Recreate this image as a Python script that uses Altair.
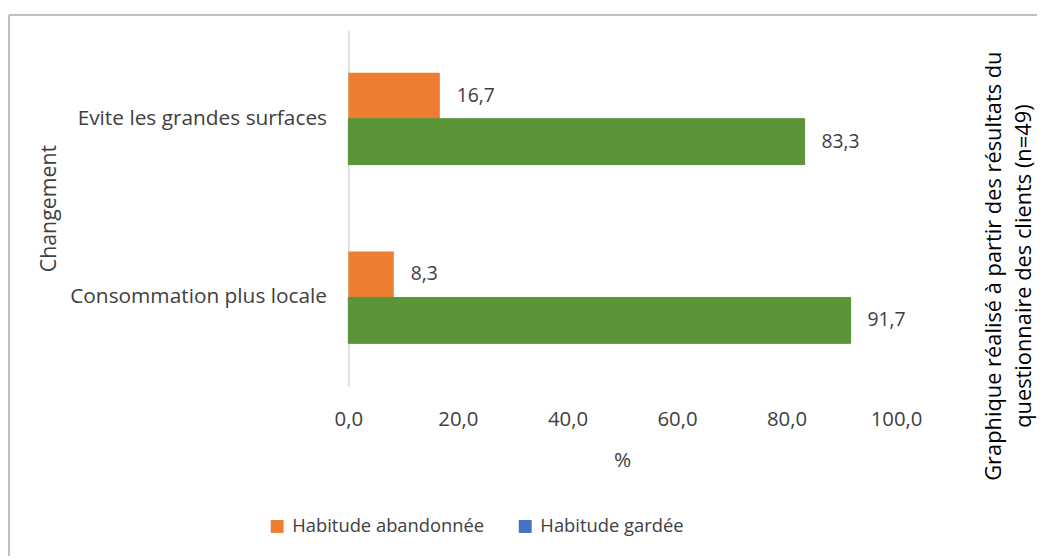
import altair as alt
import pandas as pd

categories = ["Evite les grandes surfaces", "Consommation plus locale"]
series = ["Habitude abandonnée", "Habitude gardée"]
abandonnee = [16.7, 8.3]
gardee = [83.3, 91.7]
x_ticks = [0, 20, 40, 60, 80, 100]
note_lines = ["Graphique réalisé à partir des résultats du", "questionnaire des clients (n=49)"]

ORANGE = "#ED7D31"
GREEN = "#5B9538"
BLUE = "#4472C4"
TXT = "#404040"
FONT = "Open Sans"

rows = []
for c, a, g in zip(categories, abandonnee, gardee):
    rows.append({"cat": c, "serie": series[0], "val": a})
    rows.append({"cat": c, "serie": series[1], "val": g})
df = pd.DataFrame(rows)
df["lab"] = df["val"].map(lambda v: f"{v:.1f}".replace(".", ","))

W, H = 552, 359
PAD_L, PAD_T = 343, 20
PAD_R = 1037 - PAD_L - W
PAD_B = 550 - PAD_T - H

y_enc = alt.Y("cat:N", sort=categories,
              scale=alt.Scale(paddingInner=0.487, paddingOuter=0.24),
              axis=alt.Axis(title="Changement", labelFontSize=21, labelColor=TXT, labelFont=FONT,
                            labelPadding=22, labelLimit=0, ticks=False, domainColor="#D9D9D9", domainWidth=1.5,
                            titleFontSize=21.5, titleFont=FONT, titleColor=TXT, titleFontWeight="normal",
                            titleAngle=270, titleX=-301, titleY=H / 2, titleAlign="center",
                            titleBaseline="middle", grid=False))
yoff = alt.YOffset("serie:N", sort=series, scale=alt.Scale(domain=series, paddingInner=0, paddingOuter=0))
x_enc = alt.X("val:Q", scale=alt.Scale(domain=[0, 100], nice=False),
              axis=alt.Axis(title="%", values=x_ticks, labelExpr="replace(format(datum.value, '.1f'), '.', ',')",
                            labelFontSize=20.5, labelColor=TXT, labelFont=FONT, labelPadding=24, labelFlush=False,
                            ticks=False, domain=False, grid=False,
                            titleFontSize=21, titleFont=FONT, titleColor=TXT, titleFontWeight="normal",
                            titleY=75, titleBaseline="middle"))

base = alt.Chart(df)

bars = base.mark_bar().encode(
    y=y_enc, yOffset=yoff, x=x_enc,
    color=alt.Color("serie:N", scale=alt.Scale(domain=series, range=[ORANGE, BLUE]),
                    legend=alt.Legend(title=None))
)
green = base.transform_filter(alt.datum.serie == series[1]).mark_bar(
    color=GREEN, stroke=GREEN, strokeWidth=1).encode(y=y_enc, yOffset=yoff, x=x_enc)

labels = base.mark_text(align="left", baseline="middle", dx=17, fontSize=19.5, font=FONT, color=TXT).encode(
    y=y_enc, yOffset=yoff, x=x_enc, text="lab:N")

note = alt.Chart(pd.DataFrame({"k": [0]})).mark_text(
    text=note_lines, angle=270, align="center", baseline="middle", fontSize=22, font=FONT,
    color="#000000", lineHeight=30).encode(x=alt.value(651), y=alt.value(238))

frame_top = alt.Chart(pd.DataFrame({"k": [0]})).mark_rule(color="#BFBFBF", strokeWidth=2).encode(
    x=alt.value(-PAD_L + 1), x2=alt.value(W + PAD_R), y=alt.value(-15))
frame_left = alt.Chart(pd.DataFrame({"k": [0]})).mark_rule(color="#BFBFBF", strokeWidth=2).encode(
    x=alt.value(-PAD_L + 1), y=alt.value(-15), y2=alt.value(H + PAD_B))

chart = alt.layer(frame_top, frame_left, bars, green, labels, note).properties(
    width=W, height=H,
    autosize=alt.AutoSizeParams(type="none"),
    padding={"left": PAD_L, "top": PAD_T, "right": PAD_R, "bottom": PAD_B},
    background="white",
).configure_view(stroke=None).configure_legend(
    orient="none", legendX=-81, legendY=491, direction="horizontal",
    symbolType="square", symbolSize=169, symbolStrokeWidth=0, labelFontSize=18.5,
    labelFont=FONT, labelColor=TXT, columnPadding=31, labelOffset=6, labelLimit=0
)

chart.save("out.html", embed_options={"renderer": "svg", "actions": False})
